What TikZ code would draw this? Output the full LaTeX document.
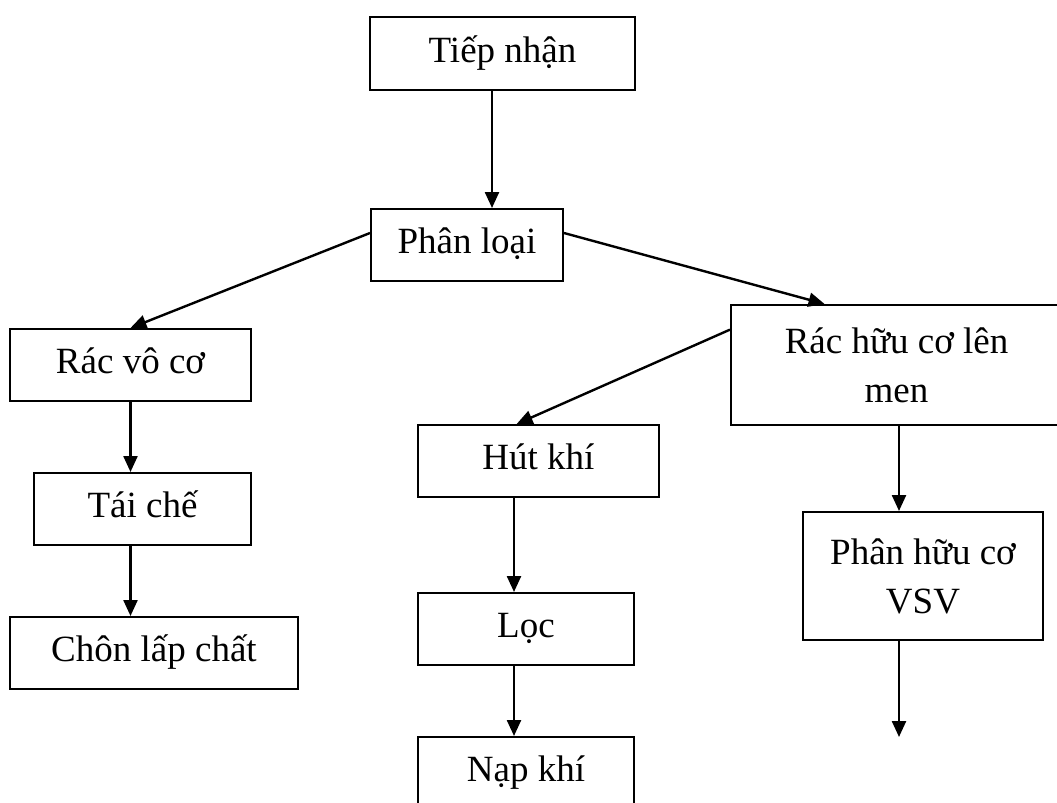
\documentclass[tikz,border=0pt]{standalone}
\usepackage{fontspec}
\setmainfont{Liberation Serif}
\usetikzlibrary{arrows.meta,calc}
\begin{document}
\begin{tikzpicture}[x=0.75pt,y=-0.75pt,
  box/.style={draw, line width=1.5pt, rectangle, inner sep=0pt,
    font=\fontsize{27.75pt}{36.75pt}\selectfont, align=center},
  oneline/.style={text height=17pt, text depth=4.25pt},
  arr/.style={line width=1.8pt, -{Triangle[length=12pt,width=10.5pt]}}]
\clip (0,0) rectangle (1057,803);
\fill[white] (0,0) rectangle (1057,803);

% process boxes
\node[box, oneline, minimum width=198.75pt, minimum height=54.75pt] (tiep) at (502.5,53.5) {Tiếp nhận};
\node[box, oneline, minimum width=144pt, minimum height=54pt] (phan) at (467,245) {Phân loại};
\node[box, oneline, minimum width=180.75pt, minimum height=54pt] (racvo) at (130.5,365) {Rác vô cơ};
\node[box, oneline, minimum width=162.75pt, minimum height=54pt] (taiche) at (142.5,509) {Tái chế};
\node[box, oneline, minimum width=216pt, minimum height=54pt] (chon) at (154,653) {Chôn lấp chất};
\node[box, minimum width=248.25pt, minimum height=90pt] (rachuu) at (896.5,365) {Rác hữu cơ lên\\men};
\node[box, oneline, minimum width=180.75pt, minimum height=54pt] (hut) at (538.5,461) {Hút khí};
\node[box, oneline, minimum width=162pt, minimum height=54pt] (loc) at (526,629) {Lọc};
\node[box, oneline, minimum width=162pt, minimum height=54pt] (nap) at (526,773) {Nạp khí};
\node[box, minimum width=180pt, minimum height=96pt] (phanhuu) at (923,576) {Phân hữu cơ\\VSV};

% vertical lines of the arrows
\coordinate (colA) at (492,0);
\coordinate (colB) at (514,0);
\coordinate (colC) at (899,0);
\coordinate (open) at (899,737);

% connectors
\draw[arr] (tiep.south -| colA) -- (phan.north -| colA);
\draw[arr] ([yshift=9pt]phan.west) -- (racvo.north);
\draw[arr] ([yshift=9pt]phan.east) -- ($(rachuu.north west)!0.284!(rachuu.north east)$);
\draw[arr] ($(rachuu.north west)!0.21!(rachuu.south west)$) -- ($(hut.north west)!0.41!(hut.north east)$);
\draw[arr] (racvo.south) -- (racvo.south |- taiche.north);
\draw[arr] (taiche.south -| racvo.south) -- (chon.north -| racvo.south);
\draw[arr] (hut.south -| colB) -- (loc.north -| colB);
\draw[arr] (loc.south -| colB) -- (nap.north -| colB);
\draw[arr] (rachuu.south -| colC) -- (phanhuu.north -| colC);
\draw[arr] (phanhuu.south -| colC) -- (open);
\end{tikzpicture}
\end{document}
